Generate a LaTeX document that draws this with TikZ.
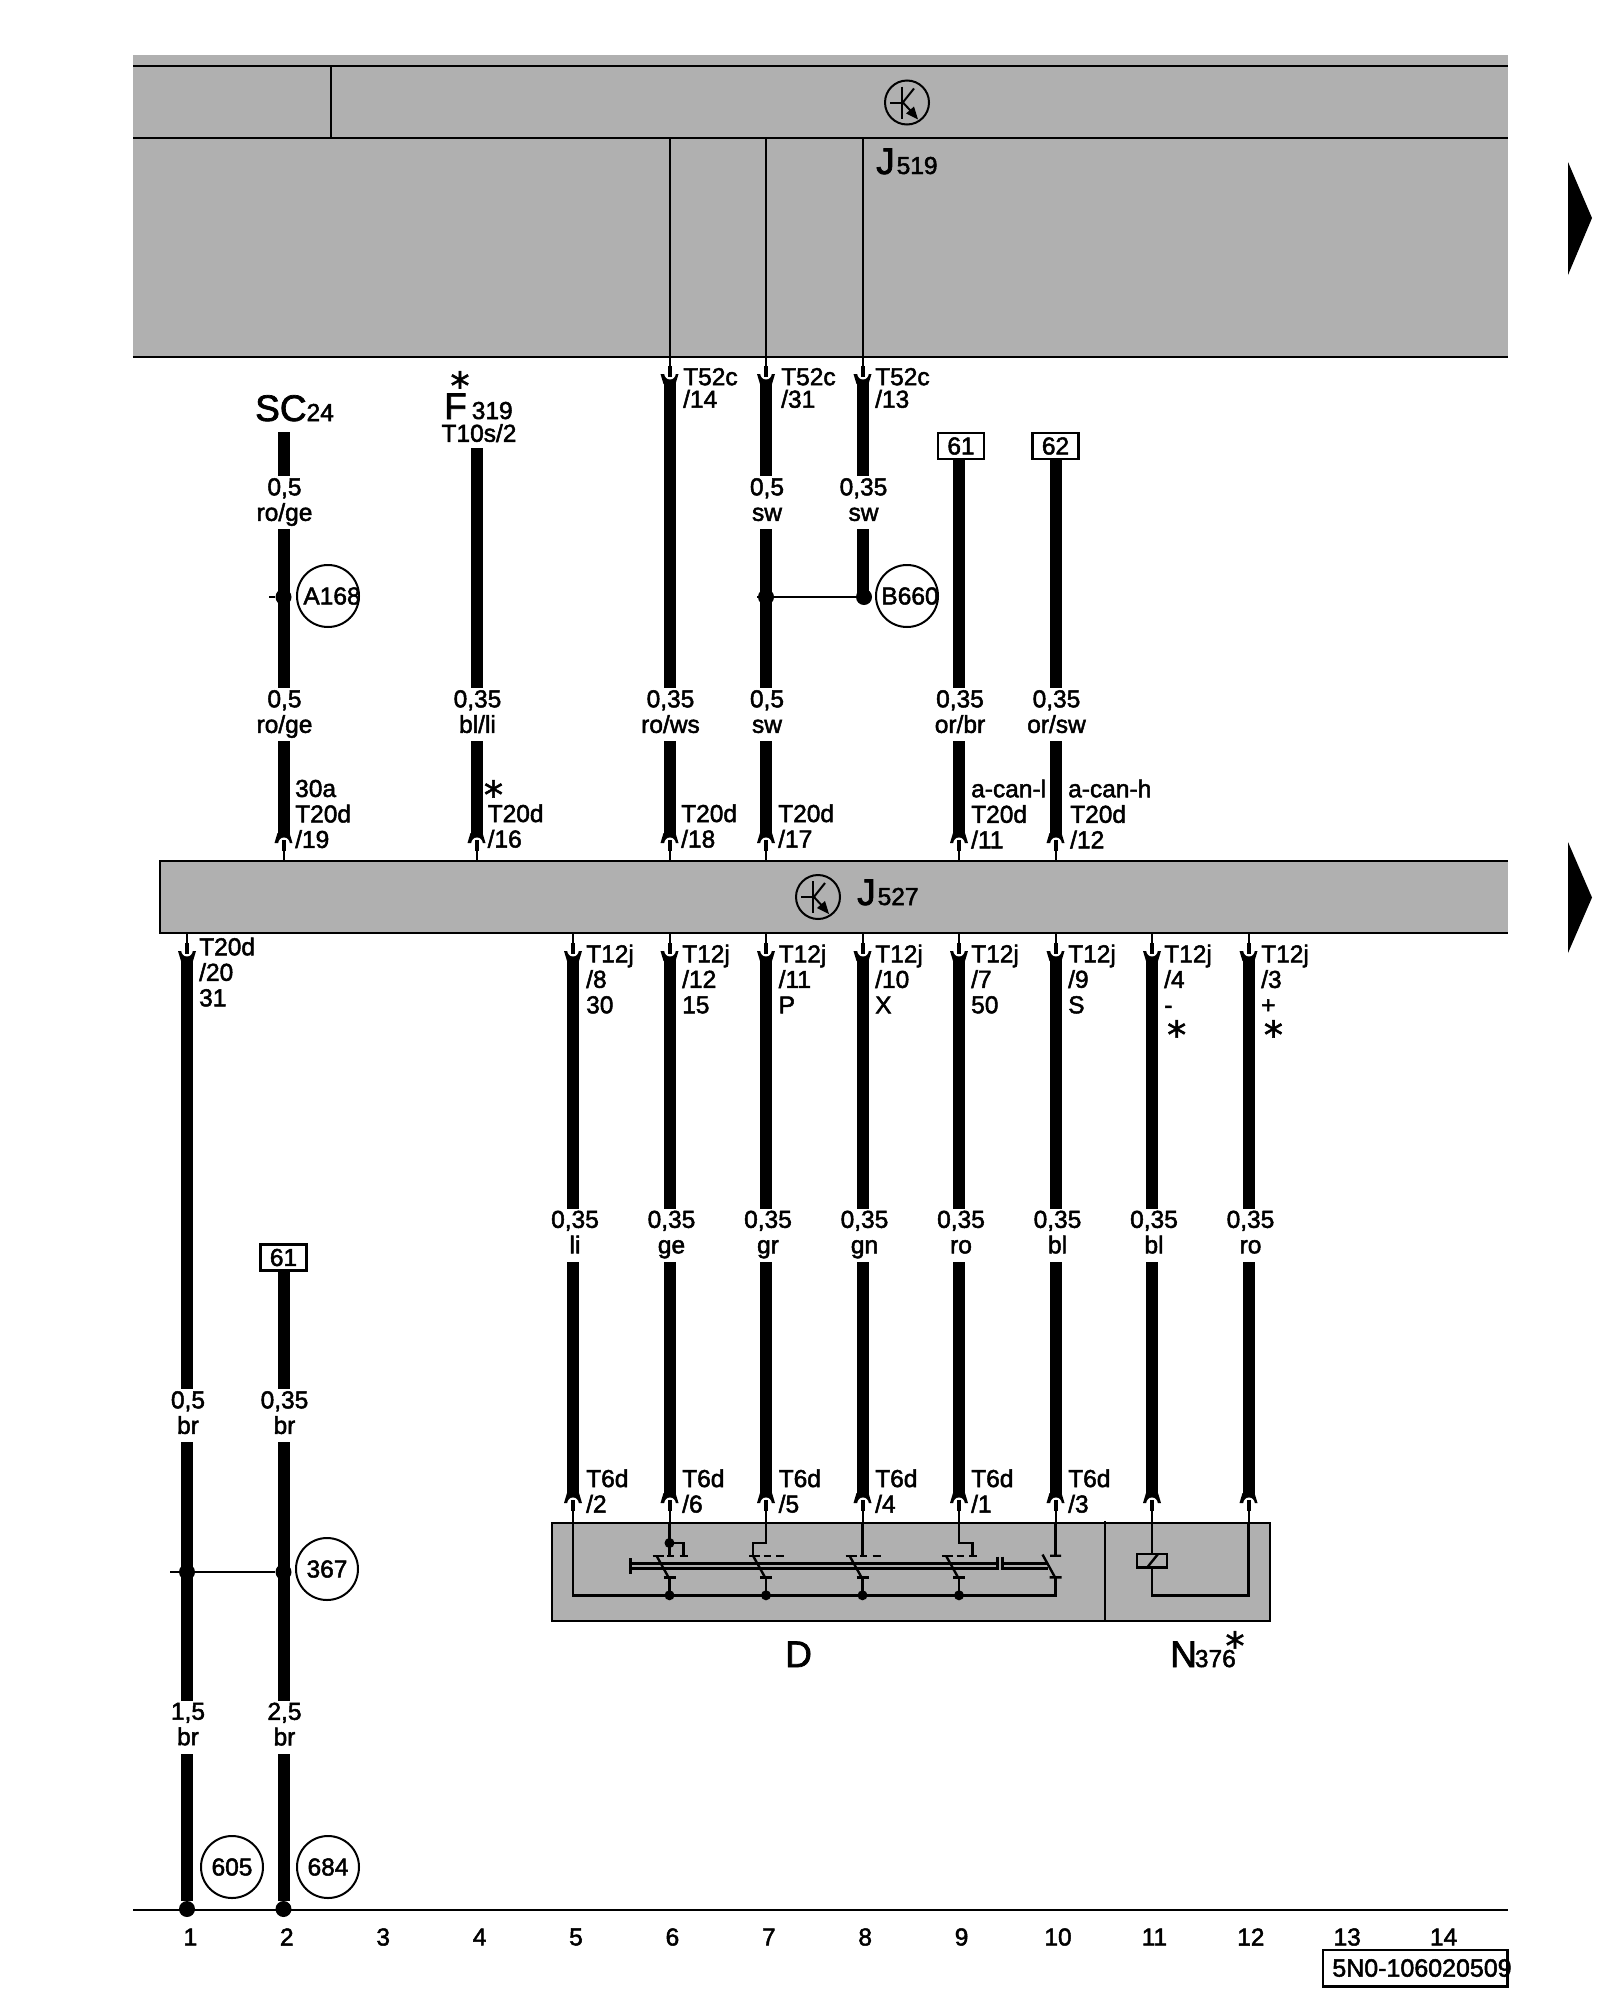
\documentclass[tikz,border=0pt]{standalone}
\usepackage{fontspec}
\setmainfont{Liberation Sans}
\newfontfamily\labelfont[FakeBold=2]{Liberation Sans}
\newfontfamily\starfont[FakeBold=1.5]{DejaVu Sans}
\usepackage{tikz}
\usetikzlibrary{positioning}
\definecolor{modulegray}{HTML}{B0B0B0}
\newcommand{\smalltype}{\labelfont\fontsize{24.5}{25.5}\selectfont}
\newcommand{\bigtype}[1]{{\labelfont\fontsize{37}{37}\selectfont #1}}

\begin{document}
\begin{tikzpicture}[x=1pt, y=-1pt, font=\smalltype]
	\tikzstyle{wire} = [line width=12pt];
	\tikzstyle{lead} = [line width=2pt];
	\tikzstyle{trace} = [line width=2.4pt];
	\tikzstyle{module} = [rectangle, fill=modulegray, inner sep=0pt];
	\tikzstyle{gauge} = [fill=white, align=center, inner sep=0pt, minimum height=53pt, execute at end node={\rule[-6pt]{0pt}{1pt}}];
	\tikzstyle{pinlabel} = [anchor=west, align=left, inner sep=0pt];
	\tikzstyle{bubble} = [circle, draw=black, line width=2pt, fill=white, minimum size=62pt, inner sep=0pt];
	\tikzstyle{tagbox} = [rectangle, draw=black, line width=2.5pt, fill=white, minimum width=46pt, minimum height=26pt, inner sep=0pt];
	\tikzstyle{dot} = [circle, fill=black, minimum size=16pt, inner sep=0pt];
	\tikzstyle{tinydot} = [circle, fill=black, minimum size=10pt, inner sep=0pt];
	\tikzstyle{starmark} = [anchor=north, inner sep=0pt, font=\starfont\fontsize{38}{38}\selectfont];
	\tikzstyle{partname} = [anchor=base west, inner sep=0pt];
	\tikzset{
		pinend/.pic={
			\fill[black] (-9,-5) -- (9,-5) -- (6,5) -- (-6,5) -- cycle;
			\fill[white] (-6,-7) .. controls (-6,3) and (6,3) .. (6,-7) -- cycle;
			\draw[line width=4pt] (0,-13) -- (0,-2);
		},
		transistor/.pic={
			\draw[line width=2pt] (0,0) circle [radius=22];
			\draw[line width=2pt] (-17,0) -- (-5,0);
			\draw[line width=2pt] (-5,-16) -- (-5,16);
			\draw[line width=2pt] (-5,1) -- (7,-14);
			\draw[line width=2pt] (-5,-1) -- (9,14);
			\fill[black] (11,17) -- (7,4) -- (-1,11) -- cycle;
		}
	}

	\useasboundingbox (0,0) rectangle (1600,2000);

	\node[module, minimum width=1375pt, minimum height=301.5pt](j519) at (820.5,205.75){};
	\node[module, minimum width=1348pt, minimum height=72pt](j527) at (834,897){};
	\node[module, draw=black, line width=2.2pt, minimum width=718pt, minimum height=98pt](dblock) at (911,1571.7){};

	\coordinate (bandl) at (133,66);
	\coordinate (bandr) at (1508,66);
	\coordinate (midl) at (133,138);
	\coordinate (midr) at (1508,138);
	\coordinate (divt) at (331,66);
	\coordinate (divb) at (331,138);
	\draw[lead] (bandl) -- (bandr) (midl) -- (midr) (divt) -- (divb);
	\draw[line width=2.2pt] (j519.south west) -- (j519.south east);
	\draw[line width=2.4pt] (j527.north east) -- (j527.north west) -- (j527.south west) -- (j527.south east);

	\pic at (907,102.5) {transistor};
	\pic at (818,897) {transistor};

	\foreach \n/\x in {6/669.5,7/766,8/862.5}
		\coordinate (ta\n) at (\x,379);
	\foreach \n/\x in {2/283.5,4/476.5,6/669.5,7/766,9/959,10/1055.5}
		\coordinate (ub\n) at (\x,838);
	\foreach \n/\x in {1/187,5/573,6/669.5,7/766,8/862.5,9/959,10/1055.5,11/1152,12/1248.5}
		\coordinate (lb\n) at (\x,956);
	\foreach \n/\x in {5/573,6/669.5,7/766,8/862.5,9/959,10/1055.5,11/1152,12/1248.5}
		\coordinate (db\n) at (\x,1498);

	\node[tagbox](taga) at (961,446){61};
	\node[tagbox](tagb) at (1055.5,446){62};
	\node[tagbox](tagc) at (283.5,1257.5){61};
	\coordinate (sc2) at (283.5,432);
	\coordinate (fuse4) at (476.5,448);
	\coordinate (tagfoot) at (959,459);
	\node[dot](ja) at (283.5,597){};
	\node[dot](jb) at (766,597){};
	\node[dot](jc) at (864,597){};
	\node[dot](jd) at (187,1572){};
	\node[dot](je) at (283.5,1572){};
	\node[dot](gnda) at (187,1909){};
	\node[dot](gndb) at (283.5,1909){};
	\coordinate (stuba) at (269,597);
	\coordinate (stubb) at (757,597);
	\coordinate (stubd) at (170,1572);
	\coordinate (busl) at (133,1909.5);
	\coordinate (busr) at (1508,1909.5);

	\draw[lead] (busl) -- (busr);
	\draw[lead] (stuba) -- (ja);
	\draw[lead] (stubb) -- (jb) -- (jc);
	\draw[lead] (stubd) -- (jd) -- (je);

	\draw[wire] (sc2) -- (ub2);
	\draw[wire] (fuse4) -- (ub4);
	\draw[wire] (ta6) -- (ub6);
	\draw[wire] (ta7) -- (ub7);
	\draw[wire] (ta8) -- (ta8 |- jc);
	\draw[wire] (tagfoot) -- (ub9);
	\draw[wire] (tagb.south) -- (ub10);
	\draw[wire] (lb1) -- (gnda);
	\draw[wire] (tagc.south) -- (gndb);
	\foreach \n in {5,...,12}
		\draw[wire] (lb\n) -- (db\n);

	\foreach \n in {6,7,8}{
		\draw[lead] (ta\n |- midl) -- (ta\n);
		\pic at (ta\n) {pinend};
	}
	\foreach \n in {2,4,6,7,9,10}{
		\draw[lead] (ub\n) -- (ub\n |- j527.north);
		\pic[yscale=-1] at (ub\n) {pinend};
	}
	\foreach \n in {1,5,6,7,8,9,10,11,12}{
		\draw[lead] (lb\n |- j527.south) -- (lb\n);
		\pic at (lb\n) {pinend};
	}
	\foreach \n in {5,...,12}{
		\draw[lead] (db\n) -- (db\n |- dblock.north);
		\pic[yscale=-1] at (db\n) {pinend};
	}

	% D and N376 block
	\coordinate (divd) at (1104.6,1521);
	\coordinate (divu) at (1104.6,1621);
	\draw[line width=2.2pt] (divd) -- (divu);
	\foreach \x in {669.5,766,862.5,959}{
		\draw[trace] (\x-17,1555.7) -- (\x-6,1555.7) (\x-2.5,1555.7) -- (\x+4.5,1555.7) (\x+10,1555.7) -- (\x+18,1555.7);
		\draw[trace] (\x-13,1555.7) -- (\x-1,1577.3);
		\draw[trace] (\x-6,1577.3) -- (\x+6,1577.3);
		\draw[trace] (\x,1577.3) -- (\x,1595.3);
		\node[tinydot] at (\x,1595.3){};
	}
	\draw[trace] (1050,1555.7) -- (1061,1555.7) (1042.5,1554.5) -- (1055,1577.3) (1049.5,1577.3) -- (1061.5,1577.3);
	\draw[trace] (db5 |- dblock.north) -- (573,1595.3) -- (1055.5,1595.3) -- (1055.5,1577.3);
	\draw[trace] (669.5,1522) -- (669.5,1555.7) (669.5,1543) -- (683.5,1543) -- (683.5,1555.7);
	\node[tinydot] at (669.5,1543){};
	\draw[trace] (766,1522) -- (766,1542.7) -- (753,1542.7) -- (753,1555.7);
	\draw[trace] (862.5,1522) -- (862.5,1555.7);
	\draw[trace] (959,1522) -- (959,1542.7) -- (972.5,1542.7) -- (972.5,1555.7);
	\draw[trace] (1055.5,1522) -- (1055.5,1555.7);
	\draw[trace] (630.4,1563.3) -- (996.6,1563.3) (630.4,1568.3) -- (996.6,1568.3) (630.4,1558) -- (630.4,1574);
	\draw[trace] (997.6,1556.7) -- (997.6,1570) (1002.6,1556.7) -- (1002.6,1570);
	\draw[trace] (1002.6,1563.3) -- (1048,1563.3) (1002.6,1568.3) -- (1048,1568.3);
	\node[rectangle, draw=black, line width=2.4pt, minimum width=30pt, minimum height=13.7pt, inner sep=0pt](coil) at (1152,1560.8){};
	\draw[trace] (1147,1567.7) -- (1158,1554);
	\draw[trace] (db11 |- dblock.north) -- (coil.north);
	\draw[trace] (coil.south) -- (1152,1595.3) -- (1248.5,1595.3) -- (db12 |- dblock.north);

	% gauge and colour labels
	\foreach \x/\txt in {283.5/{0,5\\ro/ge},766/{0,5\\sw},862.5/{0,35\\sw}}
		\node[gauge] at (\x+1,502.5){\txt};
	\foreach \x/\txt in {283.5/{0,5\\ro/ge},476.5/{0,35\\bl/li},669.5/{0,35\\ro/ws},766/{0,5\\sw},959/{0,35\\or/br},1055.5/{0,35\\or/sw}}
		\node[gauge] at (\x+1,714.5){\txt};
	\foreach \x/\txt in {573/{0,35\\li},669.5/{0,35\\ge},766/{0,35\\gr},862.5/{0,35\\gn},959/{0,35\\ro},1055.5/{0,35\\bl},1152/{0,35\\bl},1248.5/{0,35\\ro}}
		\node[gauge] at (\x+2,1235){\txt};
	\foreach \x/\txt in {187/{0,5\\br},283.5/{0,35\\br}}
		\node[gauge] at (\x+1,1415.5){\txt};
	\foreach \x/\txt in {187/{1,5\\br},283.5/{2,5\\br}}
		\node[gauge] at (\x+1,1727){\txt};

	% pin labels
	\node[pinlabel](t52a) at (683,388){T52c\\[-3pt]/14};
	\node[pinlabel](t52b) at (781,388){T52c\\[-3pt]/31};
	\node[pinlabel](t52c) at (875,388){T52c\\[-3pt]/13};
	\node[pinlabel](t20a) at (295,814){30a\\T20d\\/19};
	\node[pinlabel](t20b) at (487.5,826){T20d\\/16};
	\node[pinlabel](t20c) at (681,826){T20d\\/18};
	\node[pinlabel](t20d) at (778,826){T20d\\/17};
	\node[pinlabel](t20e) at (971,814){a-can-l\\T20d\\/11};
	\node[pinlabel](t20f) at (1068,814){a-can-h\\\hspace{2pt}T20d\\\hspace{2pt}/12};
	\node[pinlabel](t20g) at (199,972){T20d\\/20\\31};
	\foreach \x/\n/\txt in {586/8/30,682/12/15,778.5/11/P,875/10/X,971/7/50,1068/9/S}
		\node[pinlabel] at (\x,979){T12j\\/\n\\\txt};
	\node[pinlabel](t12a) at (1164,979){T12j\\/4\\-};
	\node[pinlabel](t12b) at (1261,979){T12j\\/3\\+};
	\foreach \x/\n in {586/2,682/6,778.5/5,875/4,971/1,1068/3}
		\node[pinlabel] at (\x,1491){T6d\\/\n};

	% asterisks
	\node[starmark](stara) at (460,371){*};
	\node[starmark](starb) at (493.5,780){*};
	\node[starmark](starc) at (1176.7,1020){*};
	\node[starmark](stard) at (1273.4,1020){*};
	\node[starmark](stare) at (1235,1631){*};

	% component names
	\node[partname](sc) at (255,421){\bigtype{SC}24};
	\node[partname](f319) at (444,419){\bigtype{F}\hspace{5pt}319};
	\node[inner sep=0pt](t10s) at (479,433){T10s/2};
	\node[partname](j519name) at (876,174){\bigtype{J}\hspace{2pt}519};
	\node[partname](j527name) at (857,905){\bigtype{J}\hspace{2pt}527};
	\node[partname](dname) at (785,1667){\bigtype{D}};
	\node[partname](nname) at (1170,1667){\bigtype{N}\hspace{-2pt}376};

	\node[bubble](a168) at (328,596){};
	\node[inner sep=0pt] at (332,596){A168};
	\node[bubble](b660) at (907,596){};
	\node[inner sep=0pt] at (910,596){B660};
	\node[bubble](c367) at (327,1569){367};
	\node[bubble](c605) at (232,1867){605};
	\node[bubble](c684) at (328,1867){684};

	% column numbers
	\foreach \n in {1,...,14}
		\node[inner sep=0pt] at ({94+96.4*\n},1937){\n};

	\node[rectangle, draw=black, line width=2.5pt, minimum width=184.7pt, minimum height=36.7pt, inner sep=0pt](docbox) at (1415.3,1968.3){};
	\node[inner sep=0pt, font=\labelfont\fontsize{25}{25}\selectfont](docno) at (1422,1968){5N0-106020509};

	% page arrows
	\fill[black, line join=round] (1568,162) -- (1592,218) -- (1568,275) -- cycle;
	\fill[black, line join=round] (1568,842) -- (1592,897.5) -- (1568,953) -- cycle;
\end{tikzpicture}
\end{document}
